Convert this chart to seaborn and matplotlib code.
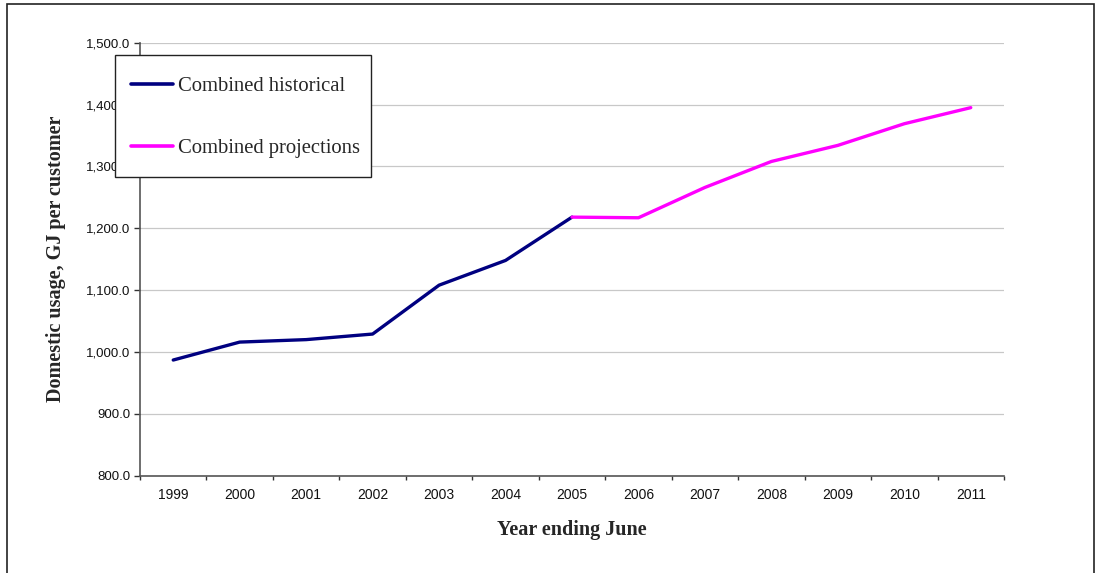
import numpy as np
import pandas as pd
import matplotlib
matplotlib.use("Agg")
import matplotlib.pyplot as plt
from matplotlib.patches import Rectangle
from matplotlib.ticker import FuncFormatter
import seaborn as sns

# Domestic gas usage per customer (GJ), year ending June
years = ["1999", "2000", "2001", "2002", "2003", "2004", "2005",
         "2006", "2007", "2008", "2009", "2010", "2011"]
historical_years = ["1999", "2000", "2001", "2002", "2003", "2004", "2005"]
historical_values = [987, 1016, 1020, 1029, 1108, 1148, 1218]
projection_years = ["2005", "2006", "2007", "2008", "2009", "2010", "2011"]
projection_values = [1218, 1217, 1266, 1308, 1334, 1369, 1395]

sns.set_theme(style="white")
plt.rcParams["font.family"] = ["Liberation Sans", "DejaVu Sans"]
serif = ["Liberation Serif", "DejaVu Serif"]

W, H = 1096, 573
pos = {y: i for i, y in enumerate(years)}
hist = pd.DataFrame({"x": [pos[y] for y in historical_years], "v": historical_values})
proj = pd.DataFrame({"x": [pos[y] for y in projection_years], "v": projection_values})

fig = plt.figure(figsize=(W / 100, H / 100), dpi=100)
ax = fig.add_axes([140 / W, 1 - 475.7 / H, 864 / W, 433 / H])

sns.lineplot(data=hist, x="x", y="v", ax=ax, color="#000080", linewidth=2.4,
             label="Combined historical", legend=False, zorder=3)
sns.lineplot(data=proj, x="x", y="v", ax=ax, color="#FF00FF", linewidth=2.4,
             label="Combined projections", legend=False, zorder=3)

# Axes limits and grid
ax.set_xlim(-0.5, len(years) - 0.5)
ax.set_ylim(800, 1500)
ax.set_yticks(np.arange(800, 1501, 100))
ax.yaxis.set_major_formatter(FuncFormatter(lambda v, _: f"{v:,.1f}"))
ax.grid(axis="y", color="#c8c8c8", linewidth=0.9)
ax.grid(axis="x", visible=False)
ax.set_axisbelow(True)

# Category ticks sit between the years; labels centred in each slot
ax.set_xticks(np.arange(-0.5, len(years), 1))
ax.set_xticklabels([])
ax.set_xticks(np.arange(len(years)), minor=True)
ax.set_xticklabels(years, minor=True)
ax.tick_params(axis="x", which="major", length=3, width=1, color="#333333", direction="out")
ax.tick_params(axis="x", which="minor", length=0, pad=9, labelsize=10, labelcolor="#111111")
ax.tick_params(axis="y", length=4, width=1, color="#333333", direction="out", pad=3,
               labelsize=9.5, labelcolor="#111111")
ax.tick_params(bottom=True, left=True, which="major")

for side in ("top", "right"):
    ax.spines[side].set_visible(False)
for side in ("left", "bottom"):
    ax.spines[side].set_color("#555555")
    ax.spines[side].set_linewidth(1.2)

ax.set_xlabel("Year ending June", fontsize=14.5, fontweight="bold", family=serif)
ax.xaxis.set_label_coords(0.5, -0.103)
ax.set_ylabel("Domestic usage, GJ per customer", fontsize=14.5, fontweight="bold",
              family=serif)
ax.yaxis.set_label_coords(-0.086, 0.5)

# Legend box with its own frame
legend_box = Rectangle((115 / W, 1 - 177 / H), 256 / W, 122 / H,
                       transform=fig.transFigure, facecolor="white",
                       edgecolor="#222222", linewidth=1.0, zorder=4)
fig.patches.append(legend_box)

handles, labels = ax.get_legend_handles_labels()
leg = fig.legend(handles, labels, loc="upper left",
                 bbox_to_anchor=(131 / W, 1 - 77 / H),
                 frameon=False, prop={"family": serif, "size": 14.9},
                 handlelength=2.03, handletextpad=0.24, labelspacing=2.02,
                 borderpad=0, borderaxespad=0)
leg.set_zorder(5)
for line in leg.get_lines():
    line.set_linewidth(2.6)

# Outer frame around the whole chart
fig.patches.append(Rectangle((7 / W, -0.05), 1087 / W, 1.05 - 3.5 / H,
                             transform=fig.transFigure, fill=False,
                             edgecolor="#222222", linewidth=1.2))

fig.savefig("out.png", dpi=100)
